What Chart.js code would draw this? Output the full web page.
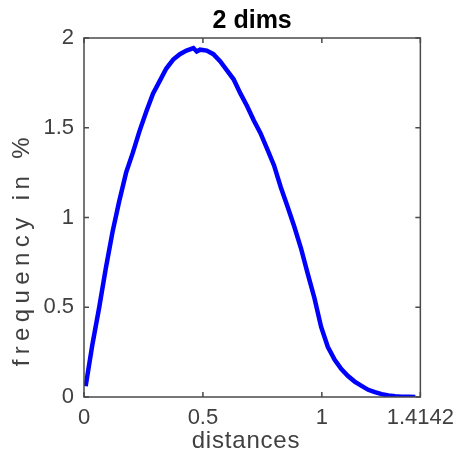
<!DOCTYPE html>
<html>
<head>
<meta charset="utf-8">
<script src="https://cdn.jsdelivr.net/npm/chart.js@4.4.1/dist/chart.umd.min.js"></script>
<style>
  body { margin: 0; background: #fff; }
</style>
</head>
<body>
<canvas id="dims" width="462" height="454"></canvas>
<script>
/* data */
const distances = [0.007, 0.035, 0.064, 0.092, 0.120, 0.148, 0.177, 0.205, 0.233, 0.262,
  0.290, 0.318, 0.346, 0.375, 0.403, 0.431, 0.460, 0.474, 0.488, 0.516, 0.544, 0.573,
  0.601, 0.629, 0.658, 0.686, 0.714, 0.742, 0.771, 0.799, 0.827, 0.856, 0.884, 0.912,
  0.940, 0.969, 0.997, 1.025, 1.054, 1.082, 1.110, 1.138, 1.167, 1.195, 1.223, 1.252,
  1.280, 1.308, 1.336, 1.365, 1.393];
const frequency = [0.06, 0.29, 0.50, 0.72, 0.92, 1.09, 1.25, 1.36, 1.48, 1.59,
  1.69, 1.76, 1.83, 1.88, 1.91, 1.93, 1.944, 1.925, 1.935, 1.93, 1.91, 1.87,
  1.82, 1.77, 1.69, 1.62, 1.54, 1.47, 1.38, 1.29, 1.17, 1.06, 0.95, 0.83,
  0.69, 0.55, 0.39, 0.28, 0.207, 0.156, 0.117, 0.086, 0.062, 0.04, 0.027, 0.016,
  0.008, 0.004, 0.002, 0.001, 0.0];
const xTicks = [0, 0.5, 1, 1.4142];
const yTicks = [0, 0.5, 1, 1.5, 2];
const titleText = "2 dims";
const xLabel = "distances";
const yLabel = "frequency in %";

const points = distances.map((d, i) => ({ x: d, y: frequency[i] }));
const axisColor = "#4a4a4a";
const textColor = "#404040";
const font = "Liberation Sans";

/* MATLAB style box with inward ticks, title and axis labels */
const boxPlugin = {
  id: "box",
  afterDraw(chart) {
    const ctx = chart.ctx;
    const a = chart.chartArea;
    const sx = chart.scales.x;
    const sy = chart.scales.y;
    const len = 5;
    ctx.save();
    ctx.strokeStyle = axisColor;
    ctx.lineWidth = 1.5;
    ctx.strokeRect(a.left, a.top, a.right - a.left, a.bottom - a.top);
    ctx.beginPath();
    xTicks.forEach(v => {
      const px = sx.getPixelForValue(v);
      ctx.moveTo(px, a.bottom); ctx.lineTo(px, a.bottom - len);
      ctx.moveTo(px, a.top); ctx.lineTo(px, a.top + len);
    });
    yTicks.forEach(v => {
      const py = sy.getPixelForValue(v);
      ctx.moveTo(a.left, py); ctx.lineTo(a.left + len, py);
      ctx.moveTo(a.right, py); ctx.lineTo(a.right - len, py);
    });
    ctx.stroke();

    // title
    ctx.fillStyle = "#000";
    ctx.font = "bold 25px '" + font + "'";
    ctx.textAlign = "center";
    ctx.textBaseline = "alphabetic";
    ctx.fillText(titleText, (a.left + a.right) / 2, 28);

    // x label
    ctx.fillStyle = textColor;
    ctx.font = "24px '" + font + "'";
    ctx.letterSpacing = "0.8px";
    ctx.fillText(xLabel, 246, 448);

    // y label, rendered with the wide spacing of the original
    ctx.translate(29, 132);
    ctx.rotate(-Math.PI / 2);
    ctx.textAlign = "right";
    ctx.letterSpacing = "5.4px";
    ctx.fillText(yLabel, 0, 0);
    ctx.restore();
  }
};

new Chart(document.getElementById("dims"), {
  type: "line",
  data: {
    datasets: [{
      label: titleText,
      data: points,
      borderColor: "#0000ff",
      borderWidth: 4.5,
      pointRadius: 0,
      tension: 0,
      fill: false
    }]
  },
  options: {
    responsive: false,
    animation: false,
    layout: {
      padding: { left: 0, right: 37, top: 38, bottom: 0 }
    },
    scales: {
      x: {
        type: "linear",
        min: 0,
        max: 1.4142,
        afterBuildTicks: scale => { scale.ticks = xTicks.map(v => ({ value: v })); },
        afterFit: scale => { scale.height = 57; },
        ticks: {
          autoSkip: false,
          maxRotation: 0,
          padding: 8,
          color: textColor,
          font: { family: font, size: 22 },
          callback: v => String(v)
        },
        grid: { display: false, drawTicks: false },
        border: { display: false }
      },
      y: {
        min: 0,
        max: 2,
        afterBuildTicks: scale => { scale.ticks = yTicks.map(v => ({ value: v })); },
        afterFit: scale => { scale.width = 84; },
        ticks: {
          autoSkip: false,
          padding: 10,
          color: textColor,
          font: { family: font, size: 22 },
          callback: v => String(v)
        },
        grid: { display: false, drawTicks: false },
        border: { display: false }
      }
    },
    plugins: {
      legend: { display: false },
      tooltip: { enabled: false }
    }
  },
  plugins: [boxPlugin]
});
</script>
</body>
</html>
